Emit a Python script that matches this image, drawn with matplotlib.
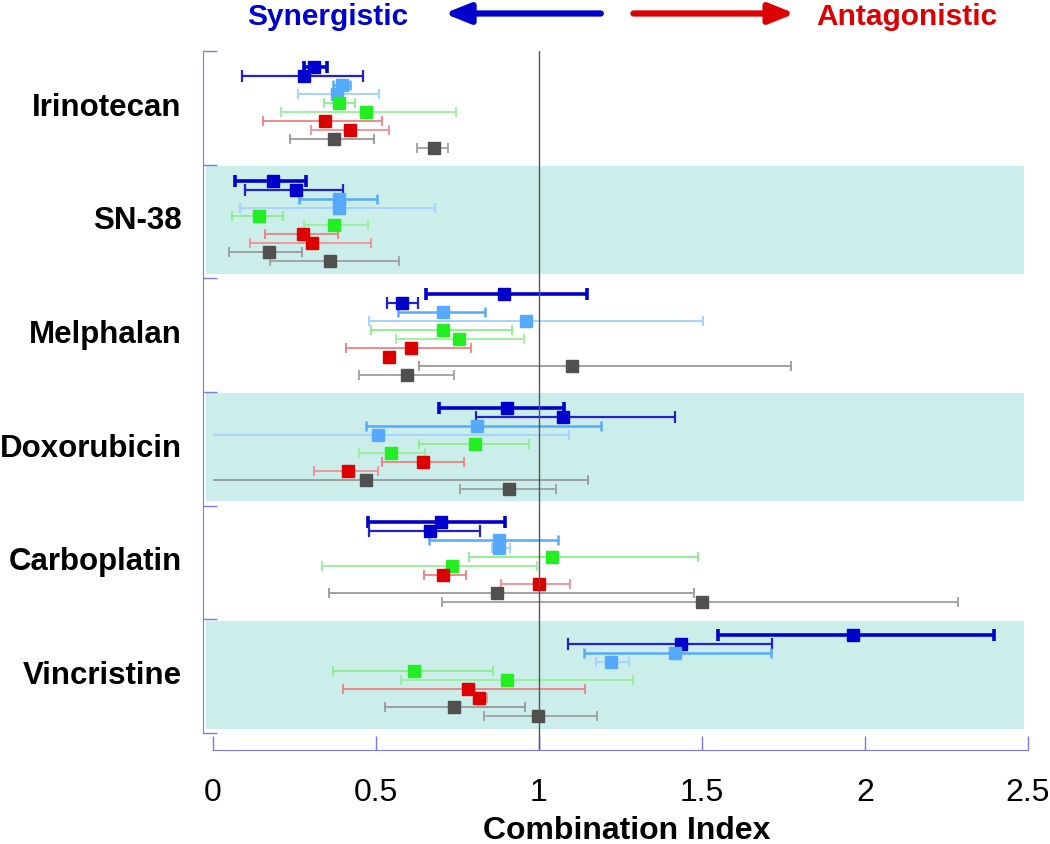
import numpy as np
import matplotlib
matplotlib.use('Agg')
import matplotlib.pyplot as plt
from matplotlib.patches import Rectangle

plt.rcParams['font.family'] = ['Liberation Sans', 'DejaVu Sans']

drugs = ['Irinotecan', 'SN-38', 'Melphalan', 'Doxorubicin', 'Carboplatin', 'Vincristine']
shaded = [False, True, False, True, False, True]

# order inside each drug: dark blue x2, light blue x2, green x2, red x2, gray x2
ci_mid = [
    [0.31, 0.28, 0.395, 0.38, 0.386, 0.47, 0.345, 0.42, 0.372, 0.678],
    [0.185, 0.255, 0.386, 0.386, 0.143, 0.372, 0.276, 0.304, 0.171, 0.359],
    [0.893, 0.58, 0.706, 0.96, 0.706, 0.754, 0.607, 0.54, 1.101, 0.595],
    [0.901, 1.074, 0.81, 0.506, 0.804, 0.546, 0.644, 0.414, 0.469, 0.908],
    [0.699, 0.665, 0.879, 0.879, 1.04, 0.734, 0.707, 0.999, 0.873, 1.499],
    [1.963, 1.436, 1.416, 1.221, 0.616, 0.901, 0.783, 0.817, 0.741, 0.998],
]
ci_lo = [
    [0.28, 0.09, 0.37, 0.26, 0.34, 0.21, 0.155, 0.30, 0.236, 0.626],
    [0.068, 0.10, 0.263, 0.083, 0.058, 0.28, 0.16, 0.113, 0.051, 0.175],
    [0.653, 0.534, 0.568, 0.48, 0.485, 0.562, 0.41, 0.53, 0.632, 0.448],
    [0.693, 0.807, 0.469, -0.1, 0.631, 0.449, 0.519, 0.31, -0.1, 0.757],
    [0.475, 0.479, 0.662, 0.855, 0.786, 0.336, 0.649, 0.884, 0.356, 0.702],
    [1.549, 1.09, 1.138, 1.174, 0.369, 0.576, 0.40, 0.80, 0.528, 0.832],
]
ci_hi = [
    [0.35, 0.46, 0.42, 0.51, 0.435, 0.745, 0.52, 0.54, 0.494, 0.72],
    [0.287, 0.40, 0.505, 0.68, 0.215, 0.475, 0.384, 0.484, 0.273, 0.571],
    [1.147, 0.629, 0.834, 1.503, 0.917, 0.954, 0.792, 0.55, 1.773, 0.74],
    [1.076, 1.417, 1.19, 1.092, 0.969, 0.65, 0.77, 0.506, 1.15, 1.052],
    [0.895, 0.818, 1.06, 0.912, 1.488, 0.995, 0.778, 1.095, 1.476, 2.285],
    [2.396, 1.714, 1.713, 1.275, 0.86, 1.288, 1.141, 0.84, 0.958, 1.177],
]

marker_colors = ['#0000cc', '#0000cc', '#55aaff', '#55aaff', '#22ee22',
                 '#22ee22', '#dd0000', '#dd0000', '#505050', '#505050']
bar_colors = ['#0000cc', '#2222cc', '#55aaff', '#a8d2ff', '#88ee88',
              '#99f099', '#ee8080', '#f09090', '#999999', '#a0a0a0']
bar_widths = [2.6, 1.6, 1.8, 1.5, 1.3, 1.3, 1.3, 1.3, 1.3, 1.3]
cap_sizes = [9, 8, 7, 7, 7, 7, 7, 7, 7, 7]

fig = plt.figure(figsize=(10.5, 8.44), dpi=100)
ax = fig.add_axes([203/1050, 94/844, 825/1050, 699/844])
ax.set_xlim(-0.03, 2.5)
ax.set_ylim(6.15, 0)

# shaded bands
for i, s in enumerate(shaded):
    if s:
        ax.add_patch(Rectangle((-0.021, i + 0.012), 2.509, 0.95,
                               facecolor='#cceeeb', edgecolor='none', zorder=0))

for i in range(len(drugs)):
    for k in range(10):
        y = i + 0.14 + k * 0.079
        lo, hi, mid = ci_lo[i][k], ci_hi[i][k], ci_mid[i][k]
        ax.hlines(y, max(lo, 0), hi, color=bar_colors[k], lw=bar_widths[k], zorder=2)
        ends = [hi] if lo < 0 else [lo, hi]
        ax.plot(ends, [y] * len(ends), ls='none', marker='|', ms=cap_sizes[k],
                mew=bar_widths[k], color=bar_colors[k], zorder=2)
        ax.plot(mid, y, marker='s', ms=8.8, color=marker_colors[k],
                mec=marker_colors[k], zorder=3)

ax.axvline(1, color='#555555', lw=1, zorder=4)

# drug labels
for i, d in enumerate(drugs):
    ax.text(-0.095, i + 0.5, d, ha='right', va='center', fontsize=22.5,
            fontweight='bold', clip_on=False)

# spines / ticks
axis_col = '#7777ee'
for side in ['top', 'right']:
    ax.spines[side].set_visible(False)
ax.spines['left'].set_bounds(0, 6)
ax.spines['left'].set_color(axis_col)
ax.spines['bottom'].set_bounds(0, 2.5)
ax.spines['bottom'].set_color(axis_col)
ax.set_yticks(np.arange(0, 7))
ax.set_yticklabels([])
ax.tick_params(axis='y', direction='in', length=10, color=axis_col, width=1)
ax.set_xticks([0, 0.5, 1, 1.5, 2, 2.5])
ax.set_xticklabels(['0', '0.5', '1', '1.5', '2', '2.5'])
ax.tick_params(axis='x', direction='in', length=10, color=axis_col, width=1,
               labelsize=23, pad=20)
ax.text(1.27, 6.86, 'Combination Index', ha='center', va='center',
        fontsize=23, fontweight='bold', clip_on=False)

# header arrows
ax.annotate('', xy=(0.71, -0.33), xytext=(1.19, -0.33), annotation_clip=False,
            arrowprops=dict(arrowstyle='-|>,head_length=1.5,head_width=0.6',
                            color='#0000cc', lw=4.5, shrinkA=0, shrinkB=0))
ax.annotate('', xy=(1.785, -0.33), xytext=(1.29, -0.33), annotation_clip=False,
            arrowprops=dict(arrowstyle='-|>,head_length=1.5,head_width=0.6',
                            color='#dd0000', lw=4.5, shrinkA=0, shrinkB=0))
ax.text(0.60, -0.30, 'Synergistic', ha='right', va='center', fontsize=21.5,
        fontweight='bold', color='#0000cc', clip_on=False)
ax.text(1.85, -0.30, 'Antagonistic', ha='left', va='center', fontsize=21.5,
        fontweight='bold', color='#dd0000', clip_on=False)

fig.savefig('out.png', dpi=100)
